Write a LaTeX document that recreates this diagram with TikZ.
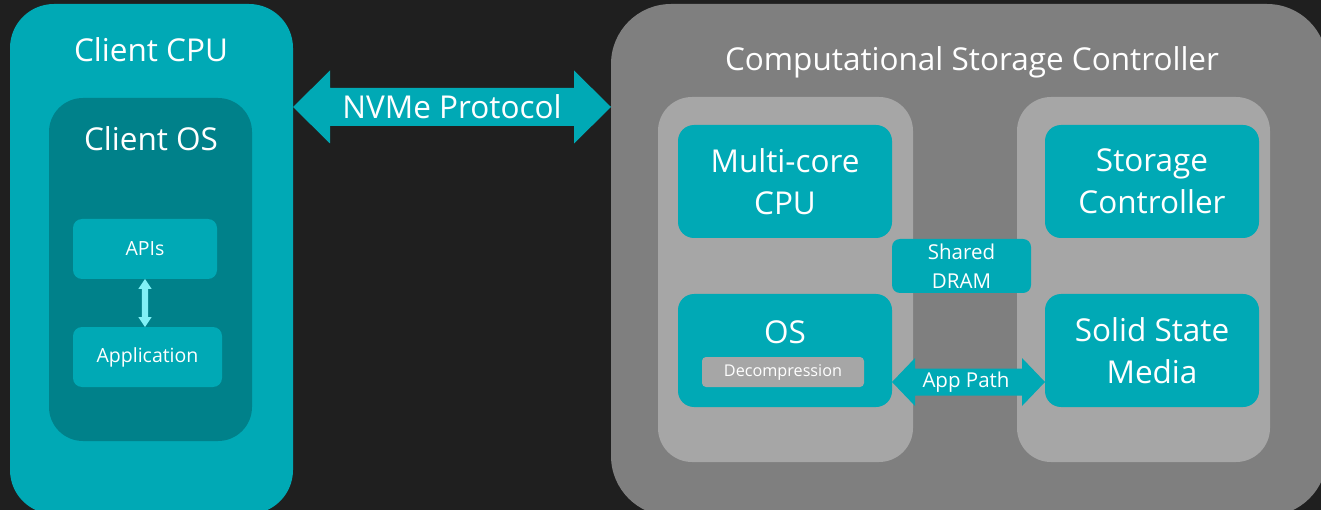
\documentclass[tikz,border=0pt]{standalone}
\usepackage{fontspec}
\setmainfont{Open Sans}
\usepackage{tikz}
\usetikzlibrary{calc}

\definecolor{bgdark}{RGB}{31,31,31}
\definecolor{cteal}{RGB}{0,169,181}
\definecolor{cdeep}{RGB}{0,129,138}
\definecolor{cgrey}{RGB}{127,127,127}
\definecolor{clight}{RGB}{166,166,166}
\definecolor{ccyan}{RGB}{128,240,245}

% fat two-headed arrows: colour, from, to, shaft half, head half, head length
\newcommand{\hblockarrow}[6]{%
  \fill[#1] let \p1=(#2), \p2=(#3) in
    (\x1,\y1) -- (\x1+#6pt,\y1+#5pt) -- (\x1+#6pt,\y1+#4pt)
    -- (\x2-#6pt,\y1+#4pt) -- (\x2-#6pt,\y1+#5pt) -- (\x2,\y1)
    -- (\x2-#6pt,\y1-#5pt) -- (\x2-#6pt,\y1-#4pt)
    -- (\x1+#6pt,\y1-#4pt) -- (\x1+#6pt,\y1-#5pt) -- cycle;}
\newcommand{\vblockarrow}[6]{%
  \fill[#1] let \p1=(#2), \p2=(#3) in
    (\x1,\y1) -- (\x1+#5pt,\y1-#6pt) -- (\x1+#4pt,\y1-#6pt)
    -- (\x1+#4pt,\y2+#6pt) -- (\x1+#5pt,\y2+#6pt) -- (\x1,\y2)
    -- (\x1-#5pt,\y2+#6pt) -- (\x1-#4pt,\y2+#6pt)
    -- (\x1-#4pt,\y1-#6pt) -- (\x1-#5pt,\y1-#6pt) -- cycle;}

\begin{document}
\begin{tikzpicture}[x=1pt,y=-1pt,
    box/.style={anchor=north west, inner sep=0pt, outer sep=0pt, text=white, align=center},
    word/.style={text=white, inner sep=0pt, align=center},
    bigword/.style={font=\fontsize{31.5}{42}\selectfont},
    midword/.style={font=\fontsize{20.5}{29}\selectfont},
    smallword/.style={font=\fontsize{19.5}{22}\selectfont},
    tinyword/.style={font=\fontsize{16.2}{19}\selectfont}]

  \useasboundingbox (0,0) rectangle (1321,510);
  \fill[bgdark] (0,0) rectangle (1321,510);

  % client side
  \node[box, fill=cteal, rounded corners=44pt, minimum width=283pt, minimum height=510pt] (cpu) at (10,4) {};
  \node[word, bigword] (cpulabel) at (151,50) {Client CPU};
  \node[box, fill=cdeep, rounded corners=34pt, minimum width=203pt, minimum height=343pt] (clientos) at (49,98) {};
  \node[word, bigword] (clientoslabel) at (151,139) {Client OS};
  \node[box, smallword, fill=cteal, rounded corners=9pt, minimum width=144pt, minimum height=60pt] (apis) at (73,219) {APIs};
  \node[box, smallword, fill=cteal, rounded corners=9pt, minimum width=149pt, minimum height=60pt] (app) at (73,327) {Application};
  \vblockarrow{ccyan}{apis.south}{app.north}{3.2}{6.7}{10}

  % storage side
  \node[box, fill=cgrey, rounded corners=60pt, minimum width=716pt, minimum height=512pt] (csc) at (611,4) {};
  \node[word, bigword] (csclabel) at (972,62) {Computational Storage Controller};
  \node[box, fill=clight, rounded corners=34pt, minimum width=255pt, minimum height=365pt] (leftpanel) at (658,97) {};
  \node[box, fill=clight, rounded corners=34pt, minimum width=253pt, minimum height=365pt] (rightpanel) at (1017,97) {};
  \node[box, bigword, fill=cteal, rounded corners=16pt, minimum width=214pt, minimum height=113pt] (mcpu) at (678,125) {Multi-core\\CPU};
  \node[box, bigword, fill=cteal, rounded corners=16pt, minimum width=214pt, minimum height=113pt] (sctrl) at (1045,125) {Storage\\Controller};
  \node[box, fill=cteal, rounded corners=16pt, minimum width=214pt, minimum height=113pt] (os) at (678,294) {};
  \node[word, bigword] (oslabel) at (785,332) {OS};
  \node[box, tinyword, fill=clight, rounded corners=4pt, minimum width=162pt, minimum height=30pt] (decomp) at (702,357) {Decompression};
  \node[box, bigword, fill=cteal, rounded corners=16pt, minimum width=214pt, minimum height=113pt] (ssm) at (1045,294) {Solid State\\Media};
  \node[box, midword, fill=cteal, rounded corners=8pt, minimum width=139pt, minimum height=54pt] (dram) at (892,239) {Shared\\DRAM};

  % links
  \coordinate (nvmemid) at (452,107);
  \hblockarrow{cteal}{cpu.east |- nvmemid}{csc.west |- nvmemid}{19}{36.5}{37}
  \node[word, bigword] (nvme) at (nvmemid) {NVMe Protocol};
  \coordinate (pathmid) at (966,382);
  \hblockarrow{cteal}{os.east |- pathmid}{ssm.west |- pathmid}{13.5}{24}{23}
  \node[word, midword] (apppath) at (pathmid) {App Path};
\end{tikzpicture}
\end{document}
